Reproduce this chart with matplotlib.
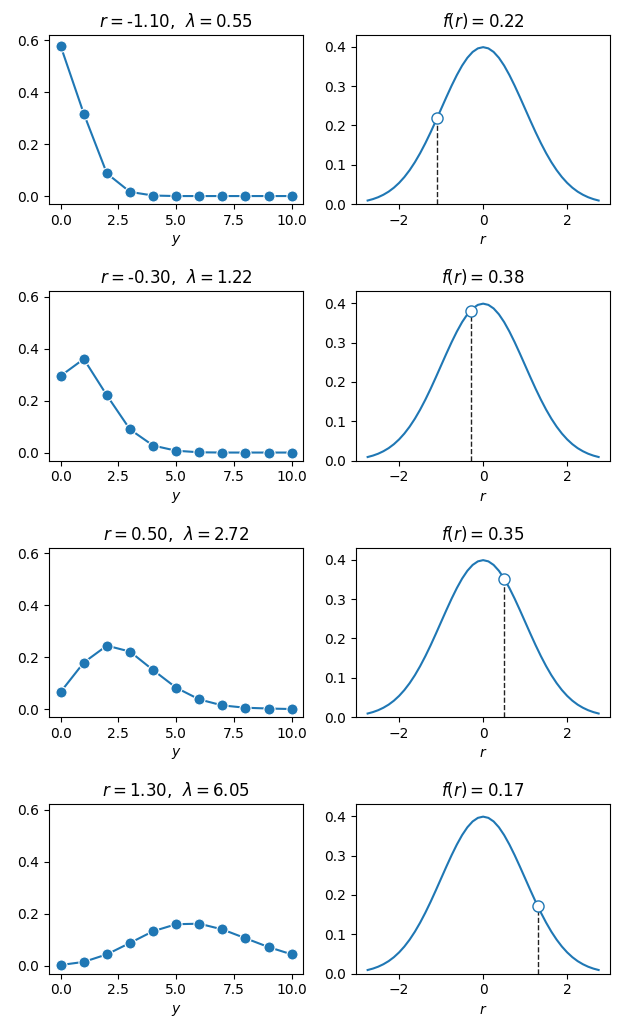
import matplotlib
matplotlib.use('Agg')
import matplotlib.pyplot as plt

# Poisson pmf, y = 0..10
y_vals = [0, 1, 2, 3, 4, 5, 6, 7, 8, 9, 10]
r_vals = [-1.10, -0.30, 0.50, 1.30]
lam_vals = [0.55, 1.22, 2.72, 6.05]
pmf_rows = [
    [0.577, 0.317, 0.087, 0.016, 0.002, 0.000, 0.000, 0.000, 0.000, 0.000, 0.000],
    [0.295, 0.360, 0.220, 0.089, 0.027, 0.007, 0.001, 0.000, 0.000, 0.000, 0.000],
    [0.066, 0.179, 0.244, 0.221, 0.150, 0.082, 0.037, 0.014, 0.005, 0.002, 0.000],
    [0.002, 0.014, 0.043, 0.087, 0.132, 0.159, 0.161, 0.139, 0.105, 0.071, 0.043],
]

# bell curve
r_grid = [-2.75, -2.625, -2.5, -2.375, -2.25, -2.125, -2.0, -1.875, -1.75, -1.625,
          -1.5, -1.375, -1.25, -1.125, -1.0, -0.875, -0.75, -0.625, -0.5, -0.375,
          -0.25, -0.125, 0.0, 0.125, 0.25, 0.375, 0.5, 0.625, 0.75, 0.875,
          1.0, 1.125, 1.25, 1.375, 1.5, 1.625, 1.75, 1.875, 2.0, 2.125,
          2.25, 2.375, 2.5, 2.625, 2.75]
density = [0.0091, 0.0127, 0.0175, 0.0238, 0.0317, 0.0417, 0.0540, 0.0688, 0.0863, 0.1065,
           0.1295, 0.1550, 0.1826, 0.2119, 0.2420, 0.2720, 0.3011, 0.3281, 0.3521, 0.3719,
           0.3867, 0.3958, 0.3989, 0.3958, 0.3867, 0.3719, 0.3521, 0.3281, 0.3011, 0.2720,
           0.2420, 0.2119, 0.1826, 0.1550, 0.1295, 0.1065, 0.0863, 0.0688, 0.0540, 0.0417,
           0.0317, 0.0238, 0.0175, 0.0127, 0.0091]
f_at_r = [0.2179, 0.3814, 0.3521, 0.1714]

fig, axes = plt.subplots(4, 2, figsize=(6.22, 10.27), dpi=100)
fig.subplots_adjust(left=0.079, right=0.981, top=0.966, bottom=0.052,
                    wspace=0.208, hspace=0.516)

for i in range(4):
    ax = axes[i, 0]
    ax.plot(y_vals, pmf_rows[i], color='C0', lw=1.5, marker='o', ms=8,
            mec='white', mew=0.8)
    ax.set_ylim(-0.031, 0.62)
    ax.set_yticks([0.0, 0.2, 0.4, 0.6])
    ax.set_xticks([0.0, 2.5, 5.0, 7.5, 10.0])
    ax.set_xlabel('$y$')
    ax.set_title(f'$r = ${r_vals[i]:.2f},  $\\lambda = ${lam_vals[i]:.2f}')

    ax = axes[i, 1]
    ax.plot(r_grid, density, color='C0', lw=1.5)
    ax.vlines(r_vals[i], 0, f_at_r[i], colors='#222222', linestyles='--', lw=1)
    ax.plot([r_vals[i]], [f_at_r[i]], marker='o', ms=8, mfc='white',
            mec='C0', mew=1, zorder=5)
    ax.set_xlim(-3.025, 3.025)
    ax.set_ylim(0, 0.43)
    ax.set_yticks([0.0, 0.1, 0.2, 0.3, 0.4])
    ax.set_xlabel('$r$')
    ax.set_title(f'$f(r) = ${f_at_r[i]:.2f}')

fig.savefig('out.png', dpi=100)
